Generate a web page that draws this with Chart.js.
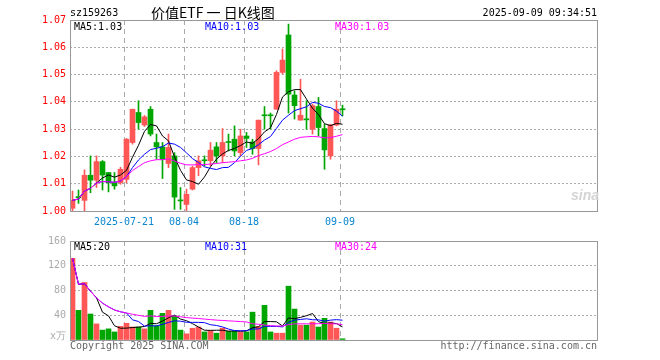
<!DOCTYPE html>
<html><head><meta charset="utf-8">
<script src="https://cdn.jsdelivr.net/npm/chart.js@4.4.1/dist/chart.umd.min.js"></script>
<style>
html,body{margin:0;padding:0;background:#fff;}
#wrap{position:relative;width:660px;height:360px;overflow:hidden;font-family:"DejaVu Sans Mono",monospace;font-size:10px;line-height:10px;}
canvas{position:absolute;left:0;}
.t{position:absolute;white-space:nowrap;line-height:10px;}
</style></head><body>
<div id="wrap">
<canvas id="k" width="660" height="230" style="top:0;width:660px;height:230px"></canvas>
<canvas id="v" width="660" height="130" style="top:230px;width:660px;height:130px"></canvas>
<div class="t" style="left:70px;top:8px;color:#000">sz159263</div>
<div class="t" style="left:151px;top:5px;font-family:'Noto Sans CJK SC',sans-serif;font-size:14px;line-height:14px;color:#000">价值ETF 一 日K线图</div>
<div class="t" style="right:63px;top:8px;color:#000">2025-09-09 09:34:51</div>
<div class="t" style="left:74px;top:22px;color:#000">MA5:1.03</div>
<div class="t" style="left:205px;top:22px;color:#0000ff">MA10:1.03</div>
<div class="t" style="left:335px;top:22px;color:#ff00ff">MA30:1.03</div>
<div class="t" style="left:74px;top:242px;color:#000">MA5:20</div>
<div class="t" style="left:205px;top:242px;color:#0000ff">MA10:31</div>
<div class="t" style="left:335px;top:242px;color:#ff00ff">MA30:24</div>
<div class="t" style="right:594px;top:331px;color:#aaa">x万</div>
<div class="t" style="left:70px;top:341px;color:#666">Copyright 2025 SINA.COM</div>
<div class="t" style="right:63px;top:341px;color:#666">http://finance.sina.com.cn</div>
<div class="t" style="left:571px;top:188px;font-family:'Liberation Sans',sans-serif;font-size:14px;line-height:14px;font-weight:bold;font-style:italic;color:#d4d4d4">sina</div>
</div>
<script>
const dates = ['07-08','07-09','07-10','07-11','07-14','07-15','07-16','07-17','07-18','07-21','07-22','07-23','07-24','07-25','07-28','07-29','07-30','07-31','08-01','08-04','08-05','08-06','08-07','08-08','08-11','08-12','08-13','08-14','08-15','08-18','08-19','08-20','08-21','08-22','08-25','08-26','08-27','08-28','08-29','09-01','09-02','09-03','09-04','09-05','09-08','09-09'];
const tickDates = ['07-21','08-04','08-18','09-09'];
const tickLabels = ['2025-07-21','08-04','08-18','09-09'];

const open  = [1.0010,1.0049,1.0039,1.0131,1.0113,1.0181,1.0141,1.0104,1.0104,1.0116,1.0251,1.0361,1.0315,1.0373,1.0251,1.0235,1.0174,1.0202,1.0037,1.0024,1.0080,1.0159,1.0184,1.0184,1.0235,1.0202,1.0251,1.0263,1.0214,1.0275,1.0253,1.0229,1.0349,1.0349,1.0373,1.0508,1.0645,1.0425,1.0333,1.0334,1.0300,1.0383,1.0302,1.0202,1.0315,1.0371];
const close = [1.0039,1.0049,1.0131,1.0113,1.0181,1.0132,1.0104,1.0092,1.0153,1.0263,1.0373,1.0324,1.0345,1.0282,1.0235,1.0190,1.0233,1.0051,1.0037,1.0061,1.0159,1.0184,1.0184,1.0223,1.0202,1.0251,1.0251,1.0220,1.0275,1.0266,1.0229,1.0333,1.0349,1.0349,1.0508,1.0553,1.0428,1.0386,1.0351,1.0334,1.0386,1.0306,1.0224,1.0315,1.0373,1.0371];
const high  = [1.0073,1.0077,1.0151,1.0202,1.0202,1.0185,1.0141,1.0141,1.0160,1.0266,1.0373,1.0404,1.0350,1.0383,1.0282,1.0251,1.0282,1.0214,1.0086,1.0080,1.0165,1.0202,1.0202,1.0251,1.0251,1.0302,1.0282,1.0312,1.0300,1.0288,1.0263,1.0333,1.0383,1.0359,1.0514,1.0594,1.0685,1.0441,1.0483,1.0404,1.0392,1.0416,1.0318,1.0318,1.0404,1.0388];
const low   = [0.9996,1.0028,0.9996,1.0067,1.0086,1.0077,1.0070,1.0080,1.0098,1.0104,1.0245,1.0300,1.0310,1.0275,1.0190,1.0119,1.0159,1.0006,1.0006,0.9996,1.0077,1.0129,1.0165,1.0165,1.0177,1.0177,1.0220,1.0202,1.0202,1.0233,1.0208,1.0169,1.0300,1.0300,1.0373,1.0502,1.0359,1.0337,1.0333,1.0300,1.0282,1.0275,1.0153,1.0190,1.0312,1.0349];
const ma5   = [1.0039,1.0044,1.0073,1.0083,1.0103,1.0121,1.0132,1.0124,1.0132,1.0149,1.0197,1.0241,1.0292,1.0317,1.0312,1.0275,1.0257,1.0198,1.0149,1.0114,1.0108,1.0098,1.0125,1.0162,1.0190,1.0209,1.0222,1.0229,1.0240,1.0253,1.0248,1.0265,1.0290,1.0305,1.0354,1.0418,1.0437,1.0445,1.0445,1.0410,1.0377,1.0353,1.0320,1.0313,1.0321,1.0318];
const ma10  = [1.0039,1.0044,1.0073,1.0083,1.0103,1.0108,1.0107,1.0105,1.0110,1.0126,1.0159,1.0187,1.0208,1.0225,1.0230,1.0236,1.0249,1.0245,1.0233,1.0213,1.0192,1.0178,1.0162,1.0156,1.0152,1.0159,1.0160,1.0177,1.0201,1.0222,1.0229,1.0243,1.0260,1.0273,1.0303,1.0333,1.0351,1.0368,1.0375,1.0382,1.0398,1.0395,1.0383,1.0379,1.0366,1.0347];
const ma30  = [1.0039,1.0044,1.0073,1.0083,1.0103,1.0108,1.0107,1.0105,1.0110,1.0126,1.0148,1.0163,1.0177,1.0184,1.0188,1.0188,1.0191,1.0183,1.0175,1.0169,1.0169,1.0170,1.0170,1.0172,1.0174,1.0177,1.0179,1.0181,1.0184,1.0187,1.0193,1.0203,1.0210,1.0218,1.0229,1.0243,1.0253,1.0263,1.0270,1.0272,1.0273,1.0272,1.0268,1.0269,1.0274,1.0280];
const volume = [132,48,93,42,26,16,18,13,22,27,21,21,18,48,23,43,48,39,16,10,19,21,13,15,11,19,14,14,13,13,45,22,56,13,11,11,87,50,24,24,29,21,35,29,19,2];
const vma5  = [132,90,91,78.8,68.2,45,39,23,19,19.2,20.2,20.8,21.8,27,26.2,30.6,36,40.2,33.8,31.2,26.4,21,15.8,15.6,15.8,15.8,14.4,14.6,14.2,14.6,19.8,21.4,29.8,29.8,29.4,22.6,35.6,34.4,36.6,39.2,42.8,29.6,26.6,27.6,26.6,21.2];
const vma10 = [132,90,91,78.8,68.2,59.5,53.6,48.5,45.6,43.7,32.6,29.9,22.4,23,22.7,25.4,28.4,31,30.4,28.7,28.5,28.5,28,24.7,23.5,21.1,17.7,15.2,14.9,15.2,17.8,17.9,22.2,22,22,21.2,28.5,32.1,33.2,34.3,32.7,32.6,30.5,32.1,32.9,32];
const vma30 = [132,90,91,78.8,68.2,59.5,53.6,48.5,45.6,43.7,41.6,39.9,38.2,38.9,37.9,38.2,38.8,38.8,37.6,36.2,35.4,34.7,33.8,33,32.1,31.6,31,30.4,29.8,29.2,26.3,25.4,24.2,23.2,22.7,22.6,24.9,26.1,26.2,26.1,26.3,26.3,26.9,26.3,26.1,24.8];

const UP = '#ff5656', DOWN = '#00a600';
const SLOT = 6, PLOT_W = 527;
const X_MIN = -2.5 / SLOT, X_MAX = X_MIN + PLOT_W / SLOT;
const tickIdx = tickDates.map(d => dates.indexOf(d));
const dirColor = dates.map((d, i) => close[i] > open[i] ? UP : DOWN);
const MONO = {family: 'DejaVu Sans Mono', size: 10};

const frame = {
  id: 'frame',
  afterDraw(chart) {
    const {ctx, chartArea: a} = chart;
    ctx.save();
    ctx.strokeStyle = '#999'; ctx.lineWidth = 1;
    ctx.strokeRect(a.left + 0.5, a.top + 0.5, a.right - a.left, a.bottom - a.top);
    ctx.restore();
  }
};

function xAxis(h, showLabels) {
  return {
    type: 'linear', min: X_MIN, max: X_MAX, offset: false,
    afterFit(s) { s.height = h; },
    afterBuildTicks(s) { s.ticks = tickIdx.map(i => ({value: i + X_MIN})); },
    grid: {color: '#aaa', drawTicks: false, lineWidth: 1, offset: false},
    border: {display: false, dash: [5, 4]},
    ticks: {display: showLabels, autoSkip: false, maxRotation: 0, minRotation: 0, color: '#0a86d0', font: MONO, padding: 5,
      callback: (v, i) => tickLabels[i]}
  };
}
function line(data, color) {
  return {type: 'line', data: data.map((v, i) => ({x: i, y: v})), borderColor: color, borderWidth: 1,
    pointRadius: 0, tension: 0, fill: false, order: 0};
}

new Chart(document.getElementById('k'), {
  type: 'bar',
  data: {datasets: [
    line(ma30, '#ff00ff'), line(ma10, '#0000ff'), line(ma5, '#000000'),
    {data: dates.map((d, i) => ({x: i, y: [open[i], close[i]]})), backgroundColor: dirColor, barThickness: 5, minBarLength: 1, grouped: false, order: 1, borderWidth: 0},
    {data: dates.map((d, i) => ({x: i, y: [low[i], high[i]]})), backgroundColor: dirColor, barThickness: 1, grouped: false, order: 2, borderWidth: 0}
  ]},
  options: {
    responsive: false, animation: false, events: [],
    layout: {padding: {left: 0, right: 63, top: 20, bottom: 0}},
    plugins: {legend: {display: false}, tooltip: {enabled: false}},
    scales: {
      x: xAxis(19, true),
      y: {min: 1.0, max: 1.07, afterFit(s) { s.width = 70; },
        grid: {color: '#aaa', drawTicks: false, lineWidth: 1},
        border: {display: false, dash: [2, 2]},
        ticks: {stepSize: 0.01, color: '#ff0000', font: MONO, padding: 4, callback: v => v.toFixed(2)}}
    }
  },
  plugins: [frame]
});

new Chart(document.getElementById('v'), {
  type: 'bar',
  data: {datasets: [
    line(vma30, '#ff00ff'), line(vma10, '#0000ff'), line(vma5, '#000000'),
    {data: dates.map((d, i) => ({x: i, y: volume[i]})), backgroundColor: dirColor, barThickness: 5, grouped: false, order: 1, borderWidth: 0}
  ]},
  options: {
    responsive: false, animation: false, events: [],
    layout: {padding: {left: 0, right: 63, top: 11, bottom: 0}},
    plugins: {legend: {display: false}, tooltip: {enabled: false}},
    scales: {
      x: xAxis(20, false),
      y: {min: 0, max: 160, afterFit(s) { s.width = 70; },
        grid: {color: '#aaa', drawTicks: false, lineWidth: 1},
        border: {display: false, dash: [2, 2]},
        ticks: {stepSize: 40, color: '#aaa', font: MONO, padding: 4, callback: v => v === 0 ? '' : v}}
    }
  },
  plugins: [frame]
});
</script>
</body></html>
